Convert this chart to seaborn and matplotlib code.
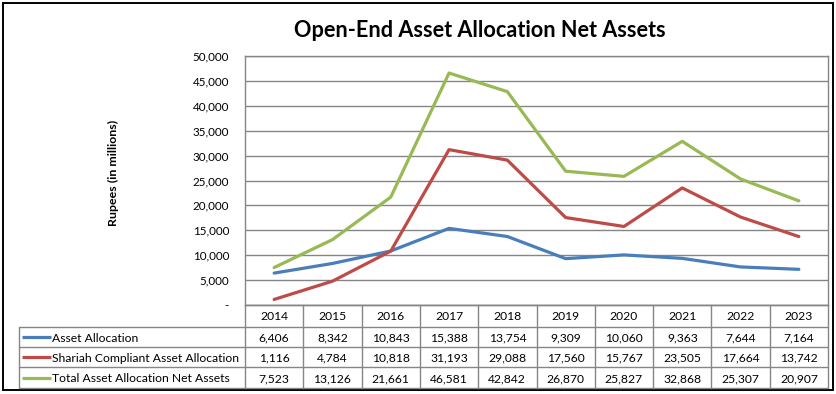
import matplotlib
matplotlib.use("Agg")
import matplotlib.pyplot as plt
import seaborn as sns
import pandas as pd
from matplotlib.ticker import FuncFormatter

years = ["2014", "2015", "2016", "2017", "2018", "2019", "2020", "2021", "2022", "2023"]
asset_allocation = [6406, 8342, 10843, 15388, 13754, 9309, 10060, 9363, 7644, 7164]
shariah_asset_allocation = [1116, 4784, 10818, 31193, 29088, 17560, 15767, 23505, 17664, 13742]
total_net_assets = [7523, 13126, 21661, 46581, 42842, 26870, 25827, 32868, 25307, 20907]
series_names = ["Asset Allocation", "Shariah Compliant Asset Allocation",
                "Total Asset Allocation Net Assets"]
series_colors = ["#4A7EBB", "#BE4B48", "#98B954"]
title = "Open-End Asset Allocation Net Assets"
y_label = "Rupees (in millions)"

sns.set_theme(style="white")
plt.rcParams["font.family"] = ["Lato", "DejaVu Sans"]

W, H = 836, 394
fig = plt.figure(figsize=(W / 100, H / 100), dpi=100)
fig.patch.set_facecolor("white")

# layout (pixels)
L, R, T, B = 245, 828, 56, 305
row_edges = [305, 327, 347, 367, 388]
tbl_left = 19
grid_col = "#868686"

df = pd.DataFrame({
    "pos": list(range(len(years))) * 3,
    "value": asset_allocation + shariah_asset_allocation + total_net_assets,
    "series": [series_names[0]] * len(years) + [series_names[1]] * len(years)
              + [series_names[2]] * len(years),
})

ax = fig.add_axes([L / W, 1 - B / H, (R - L) / W, (B - T) / H])
sns.lineplot(data=df, x="pos", y="value", hue="series", hue_order=series_names,
             palette=series_colors, linewidth=2.3, legend=False, ax=ax)
ax.set_xlim(-0.5, len(years) - 0.5)
ax.set_ylim(0, 50000)
ax.set_yticks(range(0, 50001, 5000))
ax.yaxis.set_major_formatter(FuncFormatter(lambda v, p: "-" if v == 0 else f"{int(v):,}"))
ax.set_xticks([])
ax.set_xlabel("")
ax.set_ylabel("")
ax.grid(axis="y", color=grid_col, linewidth=1.0)
ax.grid(axis="x", visible=False)
for s in ax.spines.values():
    s.set_color(grid_col)
    s.set_linewidth(1.0)
ax.tick_params(axis="y", length=0, pad=11.5, labelsize=8.4, labelcolor="#000000")

ov2 = fig.add_axes([0, 0, 1, 1], zorder=5)
ov2.set_xlim(0, W)
ov2.set_ylim(H, 0)
ov2.axis("off")
ov2.patch.set_alpha(0)

# outer chart border
ov2.plot([3, 833, 833, 3, 3], [3, 3, 390, 390, 3], color="black", linewidth=1.4,
         solid_joinstyle="miter")

ov2.text(480, 30, title, ha="center", va="center", fontsize=15.6, fontweight="bold",
         color="black")
ov2.text(113, 173, y_label, ha="center", va="center", rotation=90, fontsize=8.9,
         fontweight="bold", color="black")

n = len(years)
cw = (R - L) / n
lw_t = 1.0
ov2.plot([L, L], [B, row_edges[-1]], color=grid_col, lw=lw_t)
ov2.plot([R, R], [B, row_edges[-1]], color=grid_col, lw=lw_t)
for k in range(1, n):
    x = L + k * cw
    ov2.plot([x, x], [B, row_edges[-1]], color=grid_col, lw=lw_t)
for i, y in enumerate(row_edges):
    x0 = L if i == 0 else tbl_left
    ov2.plot([x0, R], [y, y], color=grid_col, lw=lw_t)
ov2.plot([tbl_left, tbl_left], [row_edges[1], row_edges[-1]], color=grid_col, lw=lw_t)

fs = 8.75
for k, yr in enumerate(years):
    ov2.text(L + (k + 0.5) * cw, (row_edges[0] + row_edges[1]) / 2 + 1, yr,
             ha="center", va="center", fontsize=fs, color="black")

all_vals = [asset_allocation, shariah_asset_allocation, total_net_assets]
for i, (name, col, vals) in enumerate(zip(series_names, series_colors, all_vals)):
    yc = (row_edges[i + 1] + row_edges[i + 2]) / 2 + 1
    ov2.plot([22, 51], [yc - 1, yc - 1], color=col, lw=2.3, solid_capstyle="butt")
    ov2.text(52, yc, name, ha="left", va="center", fontsize=fs, color="black")
    for k, v in enumerate(vals):
        ov2.text(L + (k + 0.5) * cw, yc, f"{v:,}", ha="center", va="center",
                 fontsize=fs, color="black")

fig.savefig("out.png", dpi=100, facecolor="white")
